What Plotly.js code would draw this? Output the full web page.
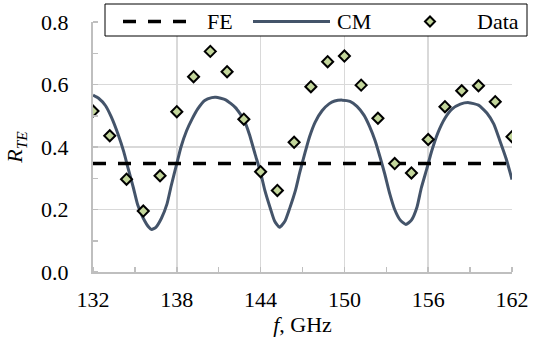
<!DOCTYPE html>
<html>
<head>
<meta charset="utf-8">
<script src="https://cdn.plot.ly/plotly-3.0.1.min.js"></script>
<style>html,body{margin:0;padding:0;background:#fff;}#chart{width:542px;height:339px;}</style>
</head>
<body>
<div id="chart"></div>
<script>
// Measured data points (f in GHz, R_TE)
const dataFreq = [132.0,133.2,134.4,135.6,136.8,138.0,139.2,140.4,141.6,142.8,144.0,145.2,146.4,
                  147.6,148.8,150.0,151.2,152.4,153.6,154.8,156.0,157.2,158.4,159.6,160.8,162.0];
const dataR    = [0.515,0.436,0.297,0.195,0.308,0.513,0.625,0.706,0.641,0.489,0.321,0.261,0.415,
                  0.593,0.673,0.691,0.598,0.492,0.347,0.317,0.424,0.529,0.580,0.596,0.545,0.433];

// FE model (constant)
const feFreq = [132, 162];
const feR    = [0.347, 0.347];

// CM model curve
const cmFreq = [132.0,132.4,132.9,133.3,133.8,134.2,134.5,134.9,135.2,135.6,136.0,136.2,136.5,136.9,137.3,137.6,138.0,
                138.3,138.7,139.1,139.5,140.0,140.5,140.8,141.5,142.2,142.8,143.2,143.6,144.0,144.3,144.7,145.0,145.35,
                145.75,146.1,146.5,146.8,147.2,147.5,147.9,148.4,148.9,149.3,149.85,150.4,150.9,151.4,151.8,152.2,152.55,
                152.9,153.25,153.6,154.0,154.4,154.8,155.2,155.5,155.9,156.25,156.7,157.2,157.7,158.3,158.9,159.6,160.2,
                160.7,161.1,161.6,162.0];
const cmR    = [0.566,0.556,0.532,0.497,0.440,0.385,0.334,0.268,0.215,0.172,0.143,0.136,0.143,0.172,0.218,0.276,0.347,
                0.400,0.452,0.490,0.522,0.549,0.558,0.559,0.551,0.526,0.488,0.440,0.378,0.318,0.262,0.203,0.163,0.143,
                0.163,0.206,0.262,0.318,0.385,0.432,0.479,0.516,0.538,0.547,0.550,0.546,0.530,0.502,0.466,0.420,0.368,
                0.312,0.250,0.200,0.166,0.152,0.166,0.208,0.268,0.330,0.387,0.446,0.492,0.521,0.537,0.542,0.534,0.509,
                0.473,0.424,0.360,0.296];

// Axis ticks
const xTickVals = [132,138,144,150,156,162];
const yTickVals = [0,0.2,0.4,0.6,0.8];
const yTickText = ['0.0','0.2','0.4','0.6','0.8'];

// Legend labels
const legendNames = ['FE','CM','Data'];

const FONT = 'Liberation Serif, Times New Roman, serif';
const CM_COLOR = '#44546a';
const DATA_FILL = '#c3d69b';

const traces = [
  {x: cmFreq, y: cmR, type: 'scatter', mode: 'lines', name: legendNames[1],
   line: {color: CM_COLOR, width: 3, shape: 'spline', smoothing: 0.5}},
  {x: feFreq, y: feR, type: 'scatter', mode: 'lines', name: legendNames[0],
   line: {color: '#000', width: 3.5, dash: '13px,12px'}},
  {x: dataFreq, y: dataR, type: 'scatter', mode: 'markers', name: legendNames[2],
   marker: {symbol: 'diamond', size: 8.5, color: DATA_FILL, line: {color: '#000', width: 2}}}
];

// custom Excel-style legend, positioned in paper coordinates
const L = 93, W = 419, T = 22, H = 250;
const px = v => (v - L) / W;
const py = v => (T + H - v) / H;
const itemY = py(21.5);

const shapes = [
  {type: 'rect', xref: 'paper', yref: 'paper', x0: px(105), x1: px(527), y0: py(36), y1: py(4),
   fillcolor: '#fff', line: {color: '#000', width: 1}, layer: 'above'},
  {type: 'line', xref: 'paper', yref: 'paper', x0: px(123), x1: px(190), y0: itemY, y1: itemY,
   line: {color: '#000', width: 3.5, dash: '13px,12px'}, layer: 'above'},
  {type: 'line', xref: 'paper', yref: 'paper', x0: px(253), x1: px(330), y0: itemY, y1: itemY,
   line: {color: CM_COLOR, width: 3}, layer: 'above'},
  {type: 'path', xref: 'paper', yref: 'paper', xsizemode: 'pixel', ysizemode: 'pixel',
   xanchor: px(430), yanchor: itemY, path: 'M-5,0L0,5L5,0L0,-5Z',
   fillcolor: DATA_FILL, line: {color: '#000', width: 2}, layer: 'above'}
];

const annotations = [
  {xref: 'paper', yref: 'paper', x: px(205), y: itemY, xanchor: 'left', yanchor: 'middle',
   text: legendNames[0], showarrow: false, font: {family: FONT, size: 22, color: '#000'}},
  {xref: 'paper', yref: 'paper', x: px(335), y: itemY, xanchor: 'left', yanchor: 'middle',
   text: legendNames[1], showarrow: false, font: {family: FONT, size: 22, color: '#000'}},
  {xref: 'paper', yref: 'paper', x: px(475), y: itemY, xanchor: 'left', yanchor: 'middle',
   text: legendNames[2], showarrow: false, font: {family: FONT, size: 22, color: '#000'}}
];

const layout = {
  width: 542, height: 339,
  margin: {l: L, r: 542 - L - W, t: T, b: 339 - T - H, pad: 0},
  paper_bgcolor: '#fff', plot_bgcolor: '#fff',
  showlegend: false,
  font: {family: FONT, size: 22, color: '#000'},
  xaxis: {
    range: [132, 162], tickvals: xTickVals, ticks: '', ticklabelstandoff: 7,
    showgrid: true, gridcolor: '#d9d9d9', gridwidth: 1.5,
    showline: true, linecolor: '#bfbfbf', linewidth: 2, zeroline: false,
    minor: {dtick: 3, tick0: 132, ticks: 'inside', ticklen: 5, tickcolor: '#bfbfbf', tickwidth: 1.5, showgrid: false},
    tickfont: {family: FONT, size: 22, color: '#000'},
    title: {text: '<i>f</i>, GHz', font: {family: FONT, size: 22, color: '#000'}, standoff: 2}
  },
  yaxis: {
    range: [0, 0.8], tickvals: yTickVals, ticktext: yTickText, ticks: '', ticklabelstandoff: 18,
    showgrid: true, gridcolor: '#d9d9d9', gridwidth: 1.5,
    showline: true, linecolor: '#bfbfbf', linewidth: 2, zeroline: false,
    minor: {dtick: 0.1, tick0: 0, ticks: 'inside', ticklen: 5, tickcolor: '#bfbfbf', tickwidth: 1.5, showgrid: false},
    tickfont: {family: FONT, size: 22, color: '#000'},
    title: {text: '<i>R<sub>TE</sub></i>', font: {family: FONT, size: 22, color: '#000'}, standoff: 12}
  },
  shapes: shapes,
  annotations: annotations
};

Plotly.newPlot('chart', traces, layout, {staticPlot: true, displayModeBar: false});
</script>
</body>
</html>
